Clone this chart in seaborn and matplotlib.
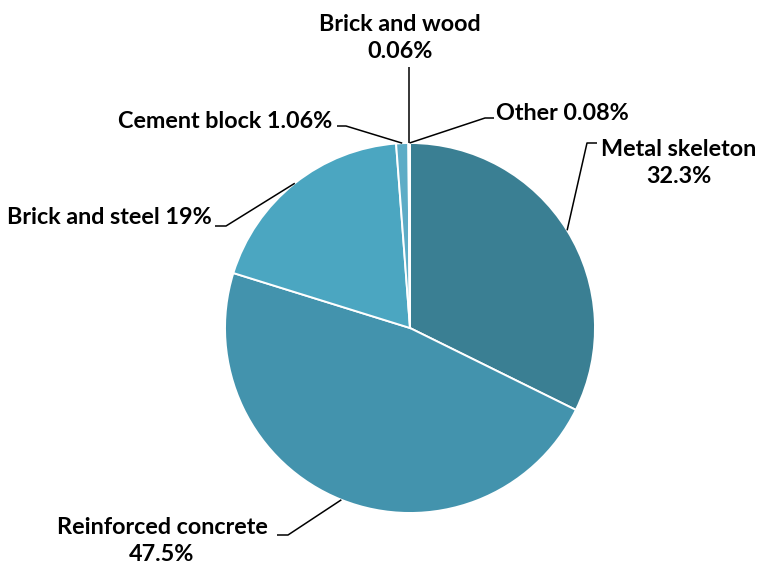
import numpy as np
import matplotlib
matplotlib.use("Agg")
from matplotlib import pyplot as plt
import seaborn as sns

# valores (%), sentido horário a partir do topo
categorias = ["Metal skeleton", "Reinforced concrete", "Brick and steel",
              "Cement block", "Brick and wood", "Other"]
valores = [32.3, 47.5, 19, 1.06, 0.06, 0.08]
rotulos = ["Metal skeleton\n32.3%", "Reinforced concrete\n47.5%", "Brick and steel 19%",
           "Cement block 1.06%", "Brick and wood\n0.06%", "Other 0.08%"]
cores = ["#3A7F93", "#4393AD", "#4BA6C1", "#5DACC6", "#7FC0D4", "#9FD0E0"]

sns.set_theme(style="white")
plt.rcParams['font.family'] = ['Lato', 'DejaVu Sans']

W, H = 760, 565
fig = plt.figure(figsize=(7.6, 5.65), dpi=100)
ax = fig.add_axes([0, 0, 1, 1])

cx, cy, r = 410, H - 328, 185
wedges, _ = ax.pie(valores, colors=cores, startangle=90, counterclock=False,
                   center=(cx, cy), radius=r,
                   wedgeprops=dict(edgecolor="white", linewidth=1.4))
ax.set_xlim(0, W)
ax.set_ylim(0, H)
ax.set_aspect("equal")
ax.axis("off")

# posições dos textos e das linhas (em pixels, y a partir do topo)
layout = {
    "Metal skeleton": dict(txt=(679, 163), ha="center", tick=[(597, 143), (587, 143)]),
    "Reinforced concrete": dict(txt=(162, 541), ha="center", tick=[(277, 535), (288, 535)]),
    "Brick and steel": dict(txt=(212, 218), ha="right", tick=[(215, 226), (226, 226)]),
    "Cement block": dict(txt=(332, 122), ha="right", tick=[(337, 126), (346, 126)]),
    "Brick and wood": dict(txt=(400, 38), ha="center", tick=[(None, 67)]),
    "Other": dict(txt=(496, 113), ha="left", tick=[(494, 118), (485, 118)]),
}

for w, cat, lab in zip(wedges, categorias, rotulos):
    ang = np.deg2rad((w.theta1 + w.theta2) / 2)
    ex, ey = cx + r * np.cos(ang), cy + r * np.sin(ang)
    lay = layout[cat]
    pts = []
    for px, py in lay["tick"]:
        pts.append((ex if px is None else px, H - py))
    pts.append((ex, ey))
    xs, ys = zip(*pts)
    ax.plot(xs, ys, color="black", lw=1.1, solid_capstyle="butt")
    tx, ty = lay["txt"]
    ax.text(tx, H - ty, lab, ha=lay["ha"], va="center", multialignment="center",
            fontsize=16.8, fontweight="bold", color="black", linespacing=1.35)

fig.savefig("out.png", dpi=100)
